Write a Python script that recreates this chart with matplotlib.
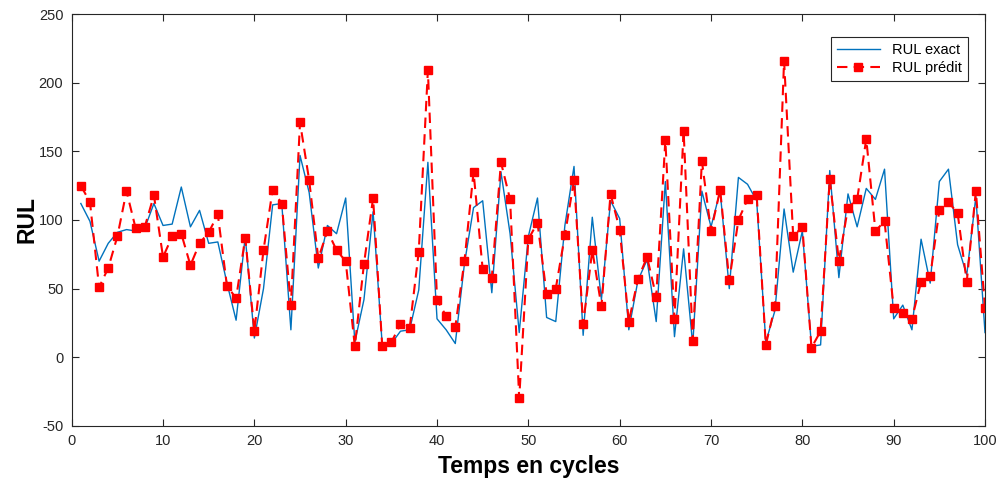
import numpy as np
import matplotlib.pyplot as plt

plt.rcParams['font.family'] = ['Liberation Sans', 'DejaVu Sans']
plt.rcParams['axes.unicode_minus'] = False

# Temps en cycles 1..100
cycles = np.arange(1, 101)

rul_exact = [
    112, 99, 70, 83, 91, 93, 92, 94, 112, 96,
    97, 124, 95, 107, 83, 84, 54, 27, 88, 14,
    50, 111, 112, 20, 147, 120, 65, 96, 90, 116,
    11, 42, 106, 9, 10, 19, 20, 49, 142, 28,
    20, 10, 68, 109, 114, 47, 135, 90, 18, 88,
    116, 29, 26, 96, 139, 16, 102, 42, 114, 101,
    20, 56, 71, 26, 128, 15, 79, 9, 121, 95,
    121, 50, 131, 126, 114, 11, 34, 108, 62, 92,
    8, 9, 136, 58, 119, 95, 123, 115, 137, 28,
    38, 20, 86, 54, 128, 137, 82, 60, 117, 18,
]

rul_predit = [
    125, 113, 51, 65, 88, 121, 94, 95, 118, 73,
    88, 90, 67, 83, 91, 104, 52, 43, 87, 19,
    78, 122, 112, 38, 171, 129, 72, 92, 78, 70,
    8, 68, 116, 8, 11, 24, 21, 77, 209, 42,
    30, 22, 70, 135, 64, 58, 142, 115, -30, 86,
    98, 46, 50, 89, 129, 24, 78, 37, 119, 93,
    26, 57, 73, 44, 158, 28, 165, 12, 143, 92,
    122, 56, 100, 115, 118, 9, 37, 216, 88, 95,
    7, 19, 130, 70, 109, 115, 159, 92, 99, 36,
    32, 28, 55, 59, 107, 113, 105, 55, 121, 36,
]

fig = plt.figure(figsize=(10, 4.84), dpi=100)
ax = fig.add_axes([0.0717, 0.12, 0.9133, 0.851])

ax.plot(cycles, rul_exact, color='#0072BD', linewidth=1.0, label='RUL exact')
ax.plot(cycles, rul_predit, color='#FF0000', linestyle='--', linewidth=1.5,
        dashes=(5, 3), marker='s', markersize=6, label='RUL prédit')

ax.set_xlim(0, 100)
ax.set_ylim(-50, 250)
ax.set_xticks(np.arange(0, 101, 10))
ax.set_yticks(np.arange(-50, 251, 50))

ax.tick_params(direction='in', top=True, right=True, length=5, pad=6,
               labelsize=10.5, colors='#262626')
for sp in ax.spines.values():
    sp.set_color('#262626')
    sp.set_linewidth(0.8)

ax.set_xlabel('Temps en cycles', fontsize=16.5, fontweight='bold', labelpad=5)
ax.set_ylabel('RUL', fontsize=16.5, fontweight='bold', labelpad=0)

leg = ax.legend(loc='upper right', bbox_to_anchor=(0.989, 0.962),
                fontsize=10.5, fancybox=False, framealpha=1, edgecolor='#262626',
                handlelength=3.0, borderpad=0.4, labelspacing=0.3)
leg.get_frame().set_linewidth(0.8)

fig.savefig('out.png', dpi=100)
